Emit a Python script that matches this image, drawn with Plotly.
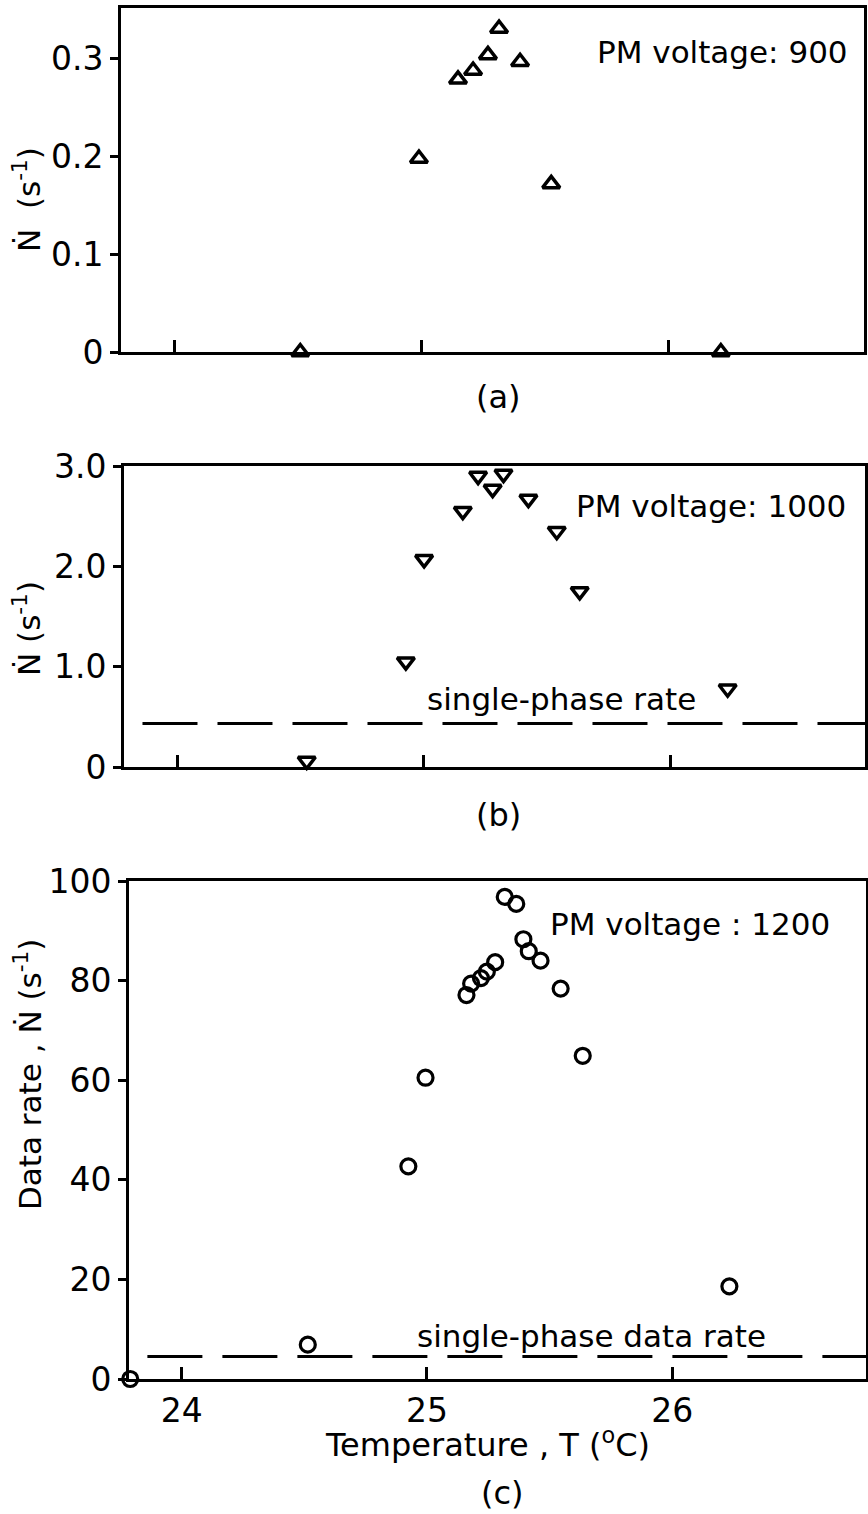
import plotly.graph_objects as go

# ---- data ----
# (a) PM voltage 900
ta = [24.51, 24.99, 25.148, 25.209, 25.269, 25.314, 25.399, 25.525, 26.211]
na = [0.0, 0.198, 0.279, 0.288, 0.304, 0.331, 0.297, 0.172, 0.0]
# (b) PM voltage 1000
tb = [24.526, 24.928, 25.002, 25.159, 25.221, 25.28, 25.324, 25.425, 25.54, 25.633, 26.233]
nb = [0.06, 1.05, 2.07, 2.55, 2.90, 2.77, 2.92, 2.67, 2.35, 1.75, 0.78]
# (c) PM voltage 1200
tc = [23.79, 24.514, 24.924, 24.994, 25.161, 25.18, 25.22, 25.244, 25.278, 25.317,
      25.364, 25.393, 25.415, 25.463, 25.545, 25.635, 26.233]
nc = [0.0, 6.9, 42.7, 60.5, 77.1, 79.4, 80.5, 81.8, 83.7, 96.8,
      95.4, 88.3, 85.9, 84.0, 78.4, 64.9, 18.6]
single_phase_b = 0.433
single_phase_c = 4.5
line_x = [23.86, 26.79]

ya_ticks = [0, 0.1, 0.2, 0.3]
ya_text = ["0", "0.1", "0.2", "0.3"]
yb_ticks = [0, 1, 2, 3]
yb_text = ["0", "1.0", "2.0", "3.0"]
yc_ticks = [0, 20, 40, 60, 80, 100]
yc_text = ["0", "20", "40", "60", "80", "100"]
x_ticks = [24, 25, 26]
x_text = ["24", "25", "26"]

FONT = "DejaVu Sans, sans-serif"
H = 1514.0
W = 868.0

def py(px):
    return 1 - px / H

fig = go.Figure()

mk = dict(color="black", line=dict(width=3.5, color="black"))
fig.add_trace(go.Scatter(x=ta, y=na, mode="markers", xaxis="x", yaxis="y", cliponaxis=False,
                         marker=dict(symbol="triangle-up-open", size=15, **mk)))
fig.add_trace(go.Scatter(x=line_x, y=[single_phase_b] * 2, mode="lines", xaxis="x2", yaxis="y2",
                         line=dict(color="black", width=3, dash="55px,20px")))
fig.add_trace(go.Scatter(x=tb, y=nb, mode="markers", xaxis="x2", yaxis="y2", cliponaxis=False,
                         marker=dict(symbol="triangle-down-open", size=15, **mk)))
fig.add_trace(go.Scatter(x=line_x, y=[single_phase_c] * 2, mode="lines", xaxis="x3", yaxis="y3",
                         line=dict(color="black", width=3, dash="55px,20px")))
fig.add_trace(go.Scatter(x=tc, y=nc, mode="markers", xaxis="x3", yaxis="y3", cliponaxis=False,
                         marker=dict(symbol="circle-open", size=15,
                                     color="black", line=dict(width=3.2, color="black"))))

axcommon = dict(showline=True, linecolor="black", linewidth=3, mirror=True, showgrid=False,
                zeroline=False, tickcolor="black", tickwidth=2.5, automargin=False,
                tickfont=dict(family=FONT, size=33, color="black"))

xr = [23.785, 26.79]
fig.update_layout(
    template="none",
    width=868, height=1514, margin=dict(l=0, r=0, t=0, b=0, pad=0), autosize=False,
    paper_bgcolor="white", plot_bgcolor="white", showlegend=False,
    xaxis=dict(domain=[121 / W, 864 / W], anchor="y", range=xr, tickvals=x_ticks,
               showticklabels=False, ticks="inside", ticklen=12, **axcommon),
    yaxis=dict(domain=[py(352), py(8)], anchor="x", range=[0, 0.352], tickvals=ya_ticks,
               ticktext=ya_text, ticks="outside", ticklen=8, **axcommon),
    xaxis2=dict(domain=[124 / W, 865 / W], anchor="y2", range=xr, tickvals=x_ticks,
                showticklabels=False, ticks="inside", ticklen=12, **axcommon),
    yaxis2=dict(domain=[py(767), py(466)], anchor="x2", range=[0, 3.0], tickvals=yb_ticks,
                ticktext=yb_text, ticks="outside", ticklen=8, **axcommon),
    xaxis3=dict(domain=[129 / W, 866 / W], anchor="y3", range=xr, tickvals=x_ticks,
                ticktext=x_text, ticks="inside", ticklen=12, **axcommon),
    yaxis3=dict(domain=[py(1379), py(881)], anchor="x3", range=[0, 100], tickvals=yc_ticks,
                ticktext=yc_text, ticks="outside", ticklen=8, **axcommon),
)

tf = dict(family=FONT, size=31, color="black")
tt = dict(family=FONT, size=32, color="black")
C = dict(xanchor="center", yanchor="middle", showarrow=False)
ann = [
    dict(text="PM voltage: 900", x=26.733, y=0.307, xref="x", yref="y", xanchor="right", yanchor="middle", showarrow=False, font=tf),
    dict(text="PM voltage: 1000", x=26.72, y=2.6, xref="x2", yref="y2", xanchor="right", yanchor="middle", showarrow=False, font=tf),
    dict(text="single-phase rate", x=25.56, y=0.68, xref="x2", yref="y2", font=tf, **C),
    dict(text="PM voltage : 1200", x=26.65, y=91.3, xref="x3", yref="y3", xanchor="right", yanchor="middle", showarrow=False, font=tf),
    dict(text="single-phase data rate", x=25.67, y=8.7, xref="x3", yref="y3", font=tf, **C),
    dict(text="(a)", x=498 / W, y=py(397), xref="paper", yref="paper", font=tt, **C),
    dict(text="(b)", x=498 / W, y=py(815), xref="paper", yref="paper", font=tt, **C),
    dict(text="(c)", x=502 / W, y=py(1493), xref="paper", yref="paper", font=tt, **C),
    dict(text="Temperature , T (<sup>o</sup>C)", x=487 / W, y=py(1443), xref="paper", yref="paper", font=tt, **C),
    dict(text="Ṅ  (s<sup>-1</sup>)", x=27 / W, y=py(200), xref="paper", yref="paper", textangle=-90, font=tf, **C),
    dict(text="Ṅ (s<sup>-1</sup>)", x=27 / W, y=py(629), xref="paper", yref="paper", textangle=-90, font=tf, **C),
    dict(text="Data rate , Ṅ (s<sup>-1</sup>)", x=28 / W, y=py(1075), xref="paper", yref="paper", textangle=-90, font=tf, **C),
]
fig.update_layout(annotations=ann)

fig.write_html("out.html")
